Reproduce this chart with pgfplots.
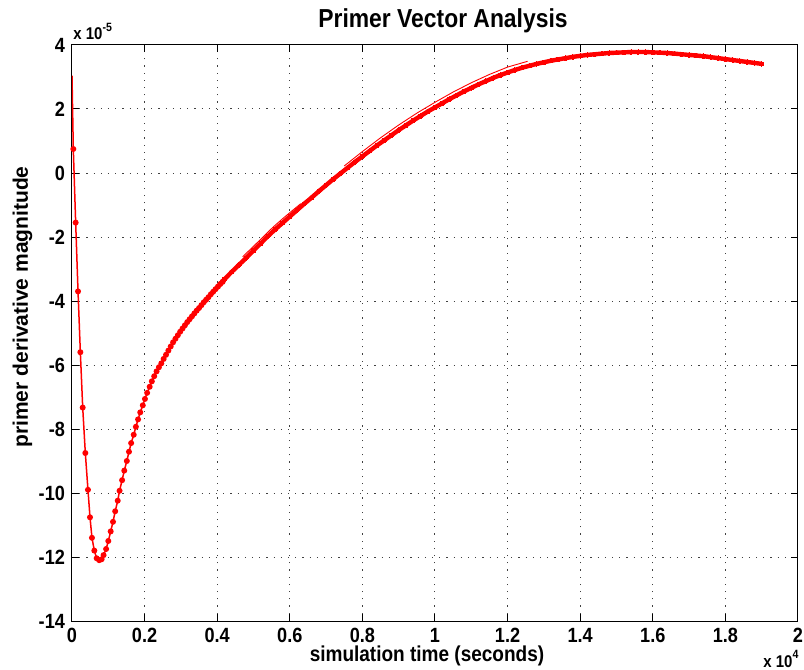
\documentclass[border=0pt]{standalone}
\usepackage{pgfplots}
\pgfplotsset{compat=1.18}
\usepackage{fontspec}
\setmainfont{Liberation Sans}[FakeStretch=0.88]
\newfontfamily\ylfont{Liberation Sans}
\begin{document}
\begin{tikzpicture}
\begin{axis}[
  at={(0,0)}, anchor=south west,
  scale only axis, width=363pt, height=288pt,
  xmin=0, xmax=2, ymin=-14, ymax=4,
  xtick={0,0.2,0.4,0.6,0.8,1,1.2,1.4,1.6,1.8,2},
  xticklabels={0,0.2,0.4,0.6,0.8,1,1.2,1.4,1.6,1.8,2},
  ytick={-14,-12,-10,-8,-6,-4,-2,0,2,4},
  yticklabels={-14,-12,-10,-8,-6,-4,-2,0,2,4},
  grid=major,
  grid style={black!75, dash pattern=on 0.6pt off 3pt, line width=0.5pt},
  axis line style={black, line width=0.5pt},
  tick style={black, line width=0.5pt},
  major tick length=3.5pt,
  tick align=inside,
  xticklabel style={font=\fontsize{10.3}{12}\selectfont\bfseries},
  yticklabel style={font=\fontsize{10.3}{12}\selectfont\bfseries},
  clip=true,
]
% start segment (no marker)
\addplot[red, line width=0.75pt] coordinates {(0,3.04) (0.0036,0.75)};
% main curve, early part
\addplot[red, line width=0.75pt, mark=*, mark size=1.1pt, mark options={fill=red, draw=red}] coordinates {
(0.0036,0.75) (0.0101,-1.55) (0.0166,-3.7) (0.023,-5.6) (0.0295,-7.33)
(0.0367,-8.75) (0.044,-9.9) (0.0496,-10.76) (0.055,-11.4) (0.0615,-11.8)
(0.068,-12.04) (0.075,-12.1) (0.0817,-12.07) (0.087,-11.94) (0.094,-11.75)
(0.100,-11.5) (0.1066,-11.2) (0.113,-10.9) (0.119,-10.57) (0.126,-10.24)
(0.131,-9.93) (0.138,-9.6) (0.144,-9.3) (0.151,-9.0) (0.157,-8.71)
(0.163,-8.44) (0.170,-8.18) (0.176,-7.93) (0.182,-7.7) (0.188,-7.48)
(0.195,-7.26) (0.201,-7.06) (0.207,-6.87) (0.214,-6.68) (0.220,-6.51)
(0.2265,-6.35) (0.233,-6.2) (0.2395,-6.07) (0.246,-5.95) (0.2525,-5.81)
(0.259,-5.68) (0.2655,-5.55) (0.272,-5.42) (0.2785,-5.29) (0.285,-5.18)
(0.2915,-5.07) (0.298,-4.96) (0.3045,-4.86) (0.311,-4.76) (0.3175,-4.66)
(0.324,-4.57) (0.3305,-4.48) (0.337,-4.39) (0.3435,-4.30) (0.350,-4.22)
(0.3565,-4.13) (0.363,-4.04) (0.3695,-3.96) (0.376,-3.88) (0.3825,-3.79)
(0.389,-3.71) (0.3955,-3.63) (0.402,-3.55) (0.4085,-3.47) (0.415,-3.40)
};
% main curve, dense band part
\addplot[red, line width=2.2pt, mark=*, mark size=1.1pt, mark options={fill=red, draw=red, line width=0pt}] coordinates {
(0.402,-3.55) (0.42,-3.32) (0.44,-3.09) (0.46,-2.87) (0.48,-2.65) (0.50,-2.42)
(0.52,-2.20) (0.54,-1.97) (0.56,-1.76) (0.58,-1.56) (0.60,-1.36) (0.62,-1.16)
(0.64,-0.96) (0.66,-0.77) (0.68,-0.57) (0.70,-0.38) (0.72,-0.19) (0.74,-0.01)
(0.76,0.17) (0.78,0.35) (0.80,0.52) (0.82,0.69) (0.84,0.86) (0.86,1.02)
(0.88,1.18) (0.90,1.34) (0.92,1.49) (0.94,1.64) (0.96,1.78) (0.98,1.92)
(1.00,2.05) (1.02,2.18) (1.04,2.31) (1.06,2.43) (1.08,2.55) (1.10,2.66)
(1.12,2.77) (1.14,2.87) (1.16,2.97) (1.18,3.06) (1.20,3.14) (1.22,3.22)
(1.24,3.29) (1.26,3.35) (1.28,3.41) (1.30,3.46) (1.32,3.51) (1.34,3.55)
(1.36,3.59) (1.38,3.63) (1.40,3.66) (1.42,3.69) (1.44,3.71) (1.46,3.73)
(1.48,3.75) (1.50,3.76) (1.52,3.77) (1.54,3.78) (1.56,3.78) (1.58,3.78)
(1.60,3.77) (1.62,3.76) (1.64,3.75) (1.66,3.73) (1.68,3.71) (1.70,3.69)
(1.72,3.67) (1.74,3.65) (1.76,3.62) (1.78,3.59) (1.80,3.56) (1.82,3.53)
(1.84,3.50) (1.86,3.47) (1.88,3.44) (1.90,3.41)
};
% thin overlapping segments
\addplot[red, line width=0.45pt] coordinates {
(0.47,-2.62) (0.50,-2.29) (0.52,-2.07) (0.54,-1.84) (0.56,-1.63) (0.58,-1.43) (0.60,-1.24) (0.63,-0.96)
};
\addplot[red, line width=0.45pt] coordinates {
(0.75,0.22) (0.80,0.67) (0.85,1.10) (0.90,1.50) (0.95,1.87) (1.00,2.21) (1.05,2.53)
(1.10,2.82) (1.15,3.08) (1.20,3.31) (1.255,3.49)
};
\end{axis}
\node[anchor=base, font=\fontsize{13}{15}\selectfont\bfseries] at (185.5pt,296.5pt) {Primer Vector Analysis};
\node[anchor=base west, inner sep=0pt, font=\fontsize{8.5}{10}\selectfont\bfseries] at (0.5pt,290.5pt) {x 10\raisebox{0.5em}{\fontsize{6}{7}\selectfont -5}};
\node[anchor=base, inner sep=0pt, font=\fontsize{10.8}{12}\selectfont\bfseries] at (177.5pt,-20pt) {simulation time (seconds)};
\node[anchor=base west, inner sep=0pt, font=\fontsize{8.5}{10}\selectfont\bfseries] at (345.5pt,-23pt) {x 10\raisebox{0.5em}{\fontsize{6}{7}\selectfont 4}};
\node[rotate=90, anchor=base, inner sep=0pt, font=\ylfont\fontsize{10.5}{12}\selectfont\bfseries] at (-22pt,157pt) {primer derivative magnitude};
\pgfresetboundingbox
\path (-36pt,-24.5pt) rectangle (366pt,310.5pt);
\end{tikzpicture}
\end{document}
